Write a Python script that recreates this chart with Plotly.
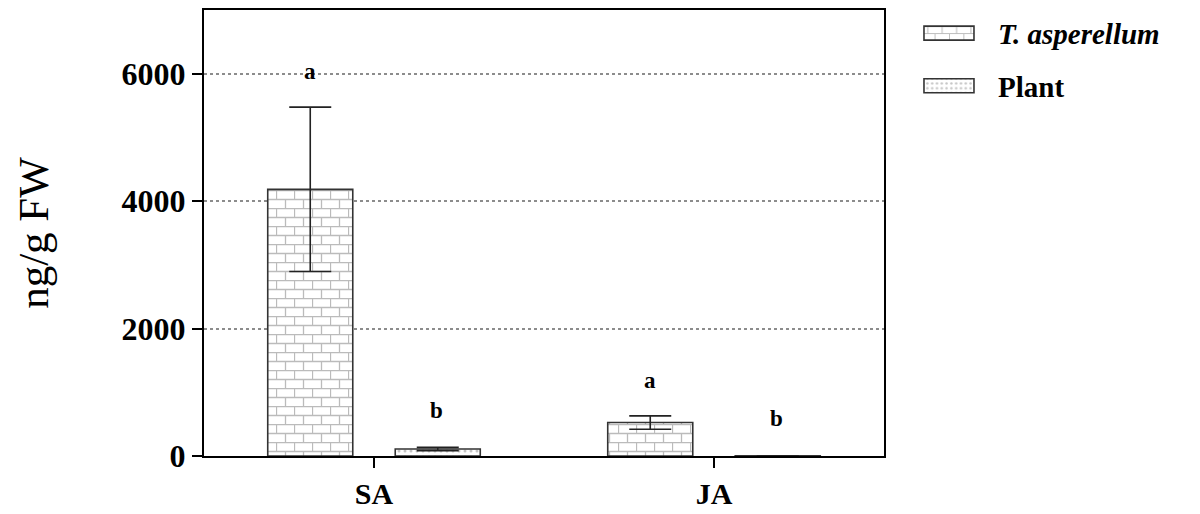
import plotly.graph_objects as go

# Hormone content by treatment
categories = ["SA", "JA"]
asperellum_vals = [4185, 525]
asperellum_err = [1290, 105]
plant_vals = [110, 4]
plant_err = [25, 0]
asperellum_letters = ["a", "a"]
plant_letters = ["b", "b"]
letter_heights = [[6030, 1190], [720, 595]]

FONT = "Liberation Serif"

fig = go.Figure()
fig.add_trace(go.Bar(
    name="<b><i>T. asperellum</i></b>", x=categories, y=asperellum_vals,
    legendgroup="t",
    marker=dict(color="white", line=dict(color="#333333", width=1.6),
                pattern=dict(shape="+", fgcolor="#7a7a7a", size=18, solidity=0.1)),
    error_y=dict(type="data", array=asperellum_err, color="#222", thickness=1.6, width=21),
))
fig.add_trace(go.Bar(
    name="<b>Plant</b>", x=categories, y=plant_vals,
    legendgroup="p",
    marker=dict(color="white", line=dict(color="#333333", width=1.6),
                pattern=dict(shape=".", fgcolor="#8a8a8a", size=6, solidity=0.2)),
    error_y=dict(type="data", array=plant_err, color="#222", thickness=1.6, width=21),
))

# significance letters above each bar
for i, cat in enumerate(categories):
    for letters, hts, shift in ((asperellum_letters, letter_heights[0], -64),
                                (plant_letters, letter_heights[1], 62)):
        fig.add_annotation(x=cat, y=hts[i], text="<b>%s</b>" % letters[i],
                           xshift=shift, showarrow=False,
                           font=dict(family=FONT, size=23, color="black"))

fig.update_layout(
    width=1200, height=514,
    margin=dict(l=204, r=316, t=8, b=58),
    plot_bgcolor="white", paper_bgcolor="white",
    barmode="group", bargap=0.25, bargroupgap=0.333,
    font=dict(family=FONT, color="black"),
    showlegend=True,
    legend=dict(x=1.0235, y=1.005, xanchor="left", yanchor="top",
                font=dict(family=FONT, size=29, color="black"),
                itemwidth=88, traceorder="grouped", tracegroupgap=12,
                bgcolor="rgba(0,0,0,0)"),
)
fig.update_xaxes(
    range=[-0.5, 1.5], showline=True, linecolor="black", linewidth=2, mirror=True,
    ticks="outside", ticklen=10, tickwidth=2, tickcolor="black",
    tickfont=dict(family=FONT, size=30, color="black", weight="bold"),
    showgrid=False, automargin=False,
)
fig.update_yaxes(
    range=[0, 7000], tickvals=[0, 2000, 4000, 6000],
    showline=True, linecolor="black", linewidth=2, mirror=True,
    ticks="outside", ticklen=10, tickwidth=2, tickcolor="black",
    tickfont=dict(family=FONT, size=32, color="black", weight="bold"),
    showgrid=True, gridcolor="#8c8c8c", griddash="dot", gridwidth=1.5,
    zeroline=False, automargin=False,
    title=dict(text="ng/g FW", font=dict(family=FONT, size=43, color="black"), standoff=60),
)

# brick fill for the first series, wide legend swatches
post = """
var gd = document.getElementById('{plot_id}');
function restyleSvg() {
  document.querySelectorAll('pattern').forEach(function (p) {
    var path = p.querySelector('path');
    if (!path) return;
    var w = 18, h = 18;
    p.setAttribute('width', w); p.setAttribute('height', h);
    var r = p.querySelector('rect');
    if (r) { r.setAttribute('width', w); r.setAttribute('height', h); }
    path.setAttribute('d', 'M0,0.5H18M0,9.5H18M0.5,0.5V9.5M9.5,9.5V18.5');
    path.style.strokeWidth = '1.3px';
    path.style.stroke = '#777777';
    path.style.fill = 'none';
  });
  gd.querySelectorAll('.legend .legendpoints path').forEach(function (s) {
    s.setAttribute('d', 'M25,7H-25V-7H25Z');
  });
}
restyleSvg();
gd.on('plotly_afterplot', restyleSvg);
"""
fig.write_html("out.html", post_script=post)
